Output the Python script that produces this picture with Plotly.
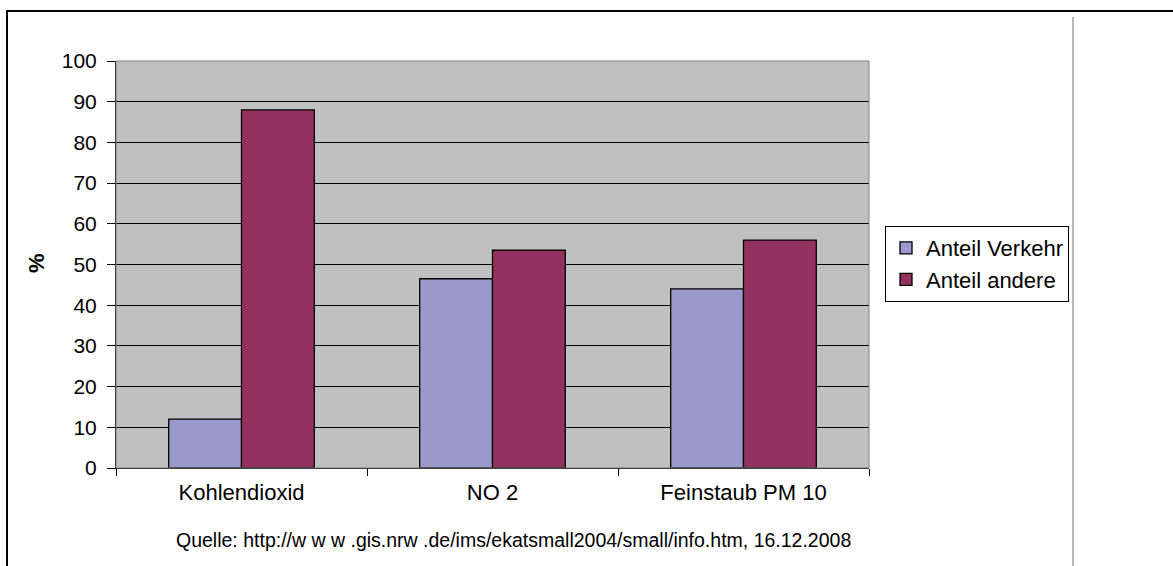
import plotly.graph_objects as go

categories = ["Kohlendioxid", "NO 2", "Feinstaub PM 10"]
anteil_verkehr = [12, 46.5, 44]
anteil_andere = [88, 53.5, 56]
series_names = ["Anteil Verkehr", "Anteil andere"]
source_text = "Quelle: http://w w w .gis.nrw .de/ims/ekatsmall2004/small/info.htm, 16.12.2008"

W, H = 1173, 566
L, R, T, B = 116, 869, 61, 468
FONT = "Arial, Liberation Sans, sans-serif"

def px_x(p):
    return (p - L) / (R - L)

def px_y(p):
    return (B - p) / (B - T)

fig = go.Figure()
fig.add_trace(go.Bar(x=categories, y=anteil_verkehr, name=series_names[0],
                     marker=dict(color="#9999CC", line=dict(color="#000000", width=1.3))))
fig.add_trace(go.Bar(x=categories, y=anteil_andere, name=series_names[1],
                     marker=dict(color="#933260", line=dict(color="#000000", width=1.3))))

fig.update_layout(
    width=W, height=H,
    margin=dict(l=L, r=W - R, t=T, b=H - B, autoexpand=False),
    paper_bgcolor="white",
    plot_bgcolor="#C0C0C0",
    barmode="group",
    bargap=0.42,
    bargroupgap=0,
    font=dict(family=FONT, size=20, color="#000000"),
    showlegend=True,
    legend=dict(x=px_x(885), y=px_y(226), xanchor="left", yanchor="top",
                bordercolor="#000000", borderwidth=1, bgcolor="white",
                font=dict(size=22, family=FONT), itemwidth=30, tracegroupgap=0),
    xaxis=dict(type="category", showline=True, linecolor="#000000", linewidth=1,
               ticks="outside", ticklen=7, tickcolor="#000000", tickson="boundaries",
               tickfont=dict(size=22), ticklabelstandoff=5, showgrid=False),
    yaxis=dict(range=[0, 100], dtick=10, showline=True, linecolor="#000000", linewidth=1,
               ticks="outside", ticklen=8, tickcolor="#000000",
               showgrid=True, gridcolor="#000000", gridwidth=1, zeroline=False,
               tickfont=dict(size=21), ticklabelstandoff=6),
    annotations=[
        dict(text="<b>%</b>", xref="paper", yref="paper", x=px_x(36), y=px_y(263),
             xanchor="center", yanchor="middle", textangle=-90, showarrow=False,
             font=dict(size=22, family=FONT)),
        dict(text=source_text, xref="paper", yref="paper", x=px_x(513), y=px_y(540),
             xanchor="center", yanchor="middle", showarrow=False,
             font=dict(size=19.5, family=FONT)),
    ],
    shapes=[
        # plot area frame
        dict(type="rect", xref="paper", yref="paper", x0=0, y0=0, x1=1, y1=1,
             line=dict(color="#808080", width=1), layer="above"),
        # outer chart border
        dict(type="rect", xref="paper", yref="paper", x0=px_x(7), y0=px_y(600),
             x1=px_x(1200), y1=px_y(11), line=dict(color="#000000", width=2)),
        # gray separator line
        dict(type="line", xref="paper", yref="paper", x0=px_x(1073), y0=px_y(17),
             x1=px_x(1073), y1=px_y(600), line=dict(color="#A0A0A0", width=1.5)),
    ],
)

fig.write_html("out.html")
